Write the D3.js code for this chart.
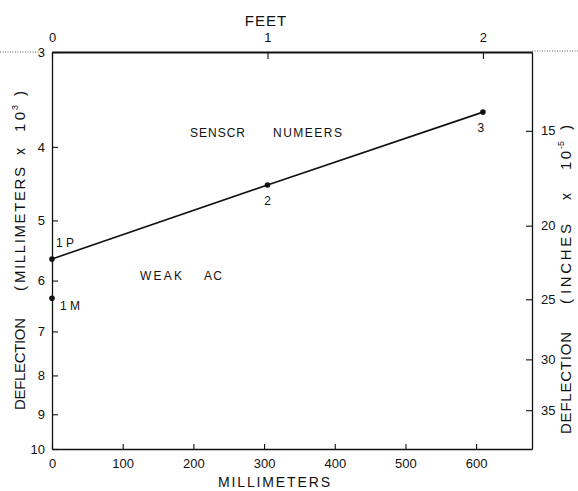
<!DOCTYPE html>
<html><head><meta charset="utf-8">
<script src="https://cdn.jsdelivr.net/npm/d3@7"></script>
<style>body{margin:0;background:#fff}svg{display:block}text{font-family:"Liberation Sans",Arial,sans-serif;fill:#111}</style>
</head><body><svg id="c" width="578" height="491"></svg>
<script>
// data
const lineNames = ["1 P", "2", "3"];
const lineMm = [0, 304.8, 609.6];
const lineDefl = [5.62, 4.49, 3.60];
const extraNames = ["1 M"];
const extraMm = [0];
const extraDefl = [6.33];
const xTicks = [0, 100, 200, 300, 400, 500, 600];
const feetTicks = [0, 1, 2];
const leftTicks = [3, 4, 5, 6, 7, 8, 9, 10];
const rightTicks = [15, 20, 25, 30, 35];

const svg = d3.select("#c");
const L = 52, R = 532, T = 52, B = 449;
const x = d3.scaleLinear().domain([0, 679]).range([L, R]);
const y = d3.scaleLog().domain([3, 10]).range([T, B]);
const xf = d3.scaleLinear().domain([0, 679 / 304.8]).range([L, R]);
const yr = d3.scaleLog().domain([3 / 0.254, 10 / 0.254]).range([T, B]);

function style(g) {
  g.selectAll("path.domain").attr("stroke", "#111").attr("stroke-width", 1.3);
  g.selectAll(".tick line").attr("stroke", "#111").attr("stroke-width", 1.1);
  g.selectAll(".tick text").attr("font-size", 13).attr("fill", "#111")
    .attr("font-family", "'Liberation Sans',Arial,sans-serif");
}

// bottom axis
const gb = svg.append("g").attr("transform", `translate(0,${B})`)
  .call(d3.axisBottom(x).tickValues(xTicks).tickSizeInner(-5).tickSizeOuter(0).tickPadding(10));
style(gb);
// top axis
const gt = svg.append("g").attr("transform", `translate(0,${T})`)
  .call(d3.axisTop(xf).tickValues(feetTicks).tickFormat(d3.format("d")).tickSizeInner(-7).tickSizeOuter(0).tickPadding(10));
style(gt);
gt.select("path.domain").attr("stroke-width", 1.8);
// left axis
const gl = svg.append("g").attr("transform", `translate(${L},0)`)
  .call(d3.axisLeft(y).tickValues(leftTicks).tickFormat(d3.format("d")).tickSizeInner(-6).tickSizeOuter(0).tickPadding(7));
style(gl);
// right axis
const gr = svg.append("g").attr("transform", `translate(${R},0)`)
  .call(d3.axisRight(yr).tickValues(rightTicks).tickFormat(d3.format("d")).tickSizeInner(-6).tickSizeOuter(0).tickPadding(9));
style(gr);

// dotted extensions at top
svg.append("line").attr("x1", 0).attr("x2", L - 8).attr("y1", T).attr("y2", T)
  .attr("stroke", "#333").attr("stroke-width", 0.8).attr("stroke-dasharray", "1,1.5");
svg.append("line").attr("x1", R).attr("x2", 578).attr("y1", T - 1).attr("y2", T - 1)
  .attr("stroke", "#333").attr("stroke-width", 0.8).attr("stroke-dasharray", "1,1.5");

// data line
const pts = lineMm.map((m, i) => [m, lineDefl[i]]);
svg.append("path").attr("d", d3.line().x(d => x(d[0])).y(d => y(d[1]))(pts))
  .attr("fill", "none").attr("stroke", "#111").attr("stroke-width", 1.6);
svg.selectAll("circle.p").data(pts).enter().append("circle")
  .attr("cx", d => x(d[0])).attr("cy", d => y(d[1])).attr("r", 2.8).attr("fill", "#111");
const ex = extraMm.map((m, i) => [m, extraDefl[i]]);
svg.selectAll("circle.e").data(ex).enter().append("circle")
  .attr("cx", d => x(d[0])).attr("cy", d => y(d[1])).attr("r", 2.8).attr("fill", "#111");

// point labels
const lab = (t, px, py, anchor) => svg.append("text").attr("x", px).attr("y", py)
  .attr("font-size", 12).attr("text-anchor", anchor || "start").attr("xml:space", "preserve").text(t);
lab(lineNames[0], x(lineMm[0]) + 4, y(lineDefl[0]) - 12);
lab(lineNames[1], x(lineMm[1]), y(lineDefl[1]) + 20, "middle");
lab(lineNames[2], x(lineMm[2]) - 2, y(lineDefl[2]) + 20, "middle");
lab(extraNames[0], x(extraMm[0]) + 8, y(extraDefl[0]) + 12);

// annotations
const ann = (t, px, py, w) => svg.append("text").attr("x", px).attr("y", py).attr("font-size", 12)
  .attr("textLength", w).attr("lengthAdjust", "spacing").text(t);
ann("SENSCR", 190, 137, 55);
ann("NUMEERS", 273, 137, 69);
ann("WEAK", 140, 280, 42);
ann("AC", 204, 280, 18);

// axis titles
svg.append("text").attr("x", 266).attr("y", 26).attr("font-size", 15).attr("text-anchor", "middle").attr("letter-spacing", 1).text("FEET");
svg.append("text").attr("x", 218).attr("y", 487).attr("font-size", 14).attr("textLength", 112).attr("lengthAdjust", "spacing").text("MILLIMETERS");

// vertical title pieces
function vpiece(str, cx, yStart, len, size) {
  const t = svg.append("text").attr("transform", `translate(${cx},${yStart}) rotate(-90)`)
    .attr("font-size", size).text(str);
  if (len) t.attr("textLength", len).attr("lengthAdjust", "spacing");
  return t;
}
// left title
vpiece("DEFLECTION", 25, 410, 92, 15);
vpiece("(", 25, 291, null, 15);
vpiece("MILLIMETERS", 25, 283, 116, 15);
vpiece("x", 25, 155, null, 14);
vpiece("10", 25, 132, 20, 15);
vpiece("3", 18, 110, null, 9);
vpiece(")", 25, 96, null, 15);
// right title
vpiece("DEFLECTION", 571, 434, 102, 15);
vpiece("(", 571, 304, null, 15);
vpiece("INCHES", 571, 294, 70, 15);
vpiece("x", 571, 200, null, 14);
vpiece("10", 571, 170, 19, 15);
vpiece("-5", 564, 149, null, 9);
vpiece(")", 571, 130, null, 15);
</script></body></html>
